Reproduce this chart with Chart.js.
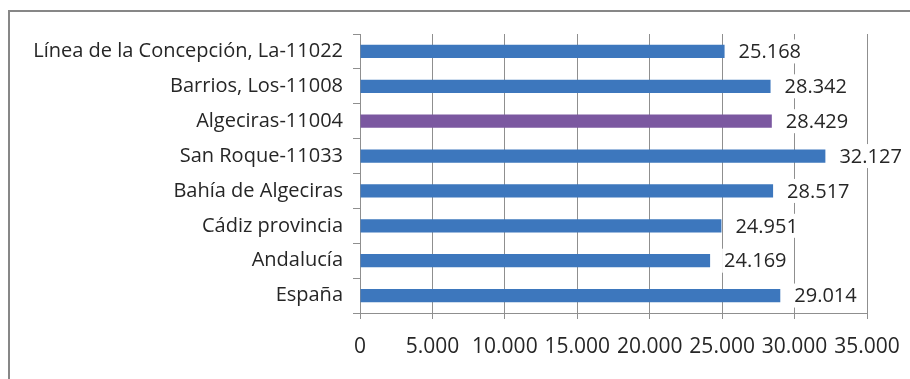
<!DOCTYPE html>
<html lang="es">
<head>
<meta charset="utf-8">
<title>Municipios</title>
<script src="https://cdn.jsdelivr.net/npm/chart.js"></script>
<style>
  html, body { margin: 0; padding: 0; background: #fff; }
  #wrap { position: relative; width: 910px; height: 379px; overflow: hidden; }
  #frame {
    position: absolute; left: 8px; top: 10px; width: 920px; height: 400px;
    border-left: 2px solid #878787; border-top: 2px solid #878787;
  }
  #chart { position: absolute; left: 0; top: 0; }
</style>
</head>
<body>
<div id="wrap">
  <div id="frame"></div>
  <canvas id="chart" width="910" height="379"></canvas>
</div>
<script>
// Ámbitos territoriales, de arriba a abajo
const ambitos = [
    "Línea de la Concepción, La-11022",
    "Barrios, Los-11008",
    "Algeciras-11004",
    "San Roque-11033",
    "Bahía de Algeciras",
    "Cádiz provincia",
    "Andalucía",
    "España"
];
const valores = [25168, 28342, 28429, 32127, 28517, 24951, 24169, 29014];
const destacado = "Algeciras-11004";
const ejeMax = 35000;
const ejePaso = 5000;

const AZUL = "#3d77bd";
const MORADO = "#7b58a0";
const GRIS = "#8f8f8f";
const TEXTO = "#262626";
const FUENTE = "'Open Sans', sans-serif";

// 25168 -> "25.168"
function miles(v) {
    return String(v).replace(/\B(?=(\d{3})+(?!\d))/g, ".");
}

// Etiqueta con fondo blanco a la derecha de cada barra
const etiquetas = {
    id: "etiquetas",
    afterDatasetsDraw(chart) {
        const ctx = chart.ctx;
        const meta = chart.getDatasetMeta(0);
        ctx.save();
        ctx.font = "20px " + FUENTE;
        ctx.textBaseline = "middle";
        meta.data.forEach((bar, i) => {
            const txt = miles(valores[i]);
            const x = bar.x + 14;
            const w = ctx.measureText(txt).width;
            ctx.fillStyle = "#fff";
            ctx.fillRect(x - 2, bar.y - 12, w + 4, 24);
            ctx.fillStyle = TEXTO;
            ctx.fillText(txt, x, bar.y + 1);
        });
        ctx.restore();
    }
};

new Chart(document.getElementById("chart"), {
    type: "bar",
    data: {
        labels: ambitos,
        datasets: [{
            data: valores,
            backgroundColor: ambitos.map(a => a === destacado ? MORADO : AZUL),
            categoryPercentage: 1,
            barPercentage: 0.38
        }]
    },
    options: {
        indexAxis: "y",
        responsive: false,
        animation: false,
        layout: { padding: { top: 34, right: 43, left: 0, bottom: 0 } },
        plugins: {
            legend: { display: false },
            tooltip: { enabled: false }
        },
        scales: {
            x: {
                min: 0,
                max: ejeMax,
                border: { color: GRIS },
                grid: { color: GRIS, tickLength: 6 },
                ticks: {
                    stepSize: ejePaso,
                    color: TEXTO,
                    padding: 15,
                    maxRotation: 0,
                    autoSkip: false,
                    font: { family: FUENTE, size: 21 },
                    callback: v => miles(v)
                },
                afterFit: s => {
                    s.height = 66;
                    s.paddingLeft = 0;
                    s.paddingRight = 0;
                }
            },
            y: {
                border: { color: GRIS },
                grid: { drawOnChartArea: false, color: GRIS, tickLength: 7 },
                ticks: {
                    color: TEXTO,
                    padding: 10,
                    font: { family: FUENTE, size: 20 }
                },
                afterFit: s => { s.width = 360; }
            }
        }
    },
    plugins: [etiquetas]
});
</script>
</body>
</html>
